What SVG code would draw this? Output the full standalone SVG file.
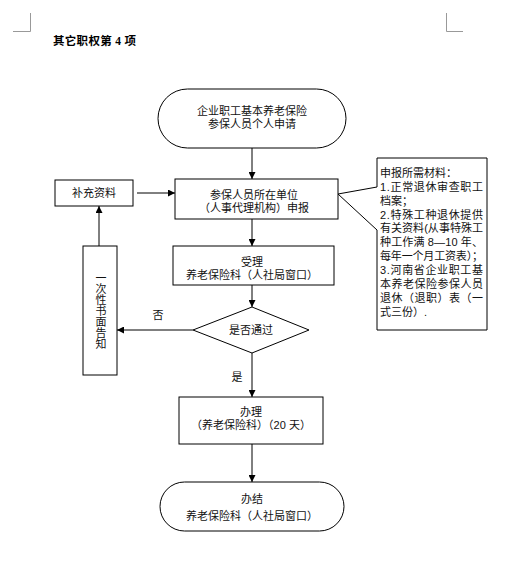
<svg xmlns="http://www.w3.org/2000/svg" width="523" height="570" viewBox="0 0 523 570">
  <defs>
    <marker id="arr" viewBox="0 0 10 10" refX="10" refY="5" markerWidth="7" markerHeight="7" markerUnits="userSpaceOnUse" orient="auto">
      <path d="M0,0 L10,5 L0,10 Z" fill="#000"/>
    </marker>
    <style>
      .shape { fill: #fff; stroke: #000; stroke-width: 1; }
      .t { font-family: "Liberation Sans", "Noto Sans CJK SC", sans-serif; font-size: 11px; fill: #111; text-anchor: middle; }
      .n { font-family: "Liberation Sans", "Noto Sans CJK SC", sans-serif; font-size: 11px; fill: #111; }
      .c { fill: none; stroke: #000; stroke-width: 1; marker-end: url(#arr); }
      .corner { fill: none; stroke: #999; stroke-width: 1; }
    </style>
  </defs>
  <rect width="523" height="570" fill="#fff"/>

  <!-- page corner marks -->
  <path class="corner" d="M30.5,13 V31.5 H13"/>
  <path class="corner" d="M446.5,13 V31.5 H463"/>

  <!-- title -->
  <text x="53" y="45" font-family="Liberation Serif, Noto Sans CJK SC, serif" font-size="11.5" font-weight="bold" fill="#000" letter-spacing="0.3">其它职权第 4 项</text>

  <g id="connectors">
    <line class="c" x1="252" y1="148" x2="252" y2="179"/>
    <line class="c" x1="137" y1="193" x2="175" y2="193"/>
    <line class="c" x1="252" y1="219" x2="252" y2="246"/>
    <line class="c" x1="252" y1="285" x2="252" y2="307"/>
    <line class="c" x1="193" y1="330" x2="117" y2="330"/>
    <line class="c" x1="99" y1="246" x2="99" y2="206"/>
    <line class="c" x1="252" y1="353" x2="252" y2="397"/>
    <line class="c" x1="252" y1="444" x2="252" y2="482"/>
  </g>

  <g id="start">
    <rect class="shape" x="158" y="89" width="188" height="59" rx="29.5" ry="29.5"/>
    <text class="t"><tspan x="252" y="115">企业职工基本养老保险</tspan><tspan x="252" y="128">参保人员个人申请</tspan></text>
  </g>

  <g id="apply">
    <rect class="shape" x="175" y="179" width="163" height="40"/>
    <text class="t"><tspan x="254" y="199">参保人员所在单位</tspan><tspan x="254" y="212">（人事代理机构）申报</tspan></text>
  </g>

  <g id="supplement">
    <rect class="shape" x="55" y="180" width="78" height="26"/>
    <text class="t" x="94" y="197">补充资料</text>
  </g>

  <g id="notice">
    <rect class="shape" x="83" y="246" width="34" height="129"/>
    <text class="n" x="100" y="272" style="writing-mode: vertical-rl;">一次性书面告知</text>
  </g>

  <g id="materials">
    <polygon class="shape" points="377,158 487,158 487,330 377,330 377,230 338,194 377,187"/>
    <text class="n">
      <tspan x="380" y="177">申报所需材料：</tspan>
      <tspan x="380" y="191" textLength="103" lengthAdjust="spacing">1.正常退休审查职工</tspan>
      <tspan x="380" y="205">档案；</tspan>
      <tspan x="380" y="219" textLength="103" lengthAdjust="spacing">2.特殊工种退休提供</tspan>
      <tspan x="380" y="232" textLength="103" lengthAdjust="spacing">有关资料(从事特殊工</tspan>
      <tspan x="380" y="246" textLength="103" lengthAdjust="spacing">种工作满 8—10 年、</tspan>
      <tspan x="380" y="260" textLength="103" lengthAdjust="spacing">每年一个月工资表）；</tspan>
      <tspan x="380" y="274" textLength="103" lengthAdjust="spacing">3.河南省企业职工基</tspan>
      <tspan x="380" y="288" textLength="103" lengthAdjust="spacing">本养老保险参保人员</tspan>
      <tspan x="380" y="302" textLength="103" lengthAdjust="spacing">退休（退职）表（一</tspan>
      <tspan x="380" y="316">式三份）.</tspan>
    </text>
  </g>

  <g id="accept">
    <rect class="shape" x="173" y="246" width="161" height="39"/>
    <text class="t"><tspan x="252" y="266">受理</tspan><tspan x="252" y="279">养老保险科（人社局窗口）</tspan></text>
  </g>

  <g id="decision">
    <polygon class="shape" points="252,307 309,330 252,353 193,330"/>
    <text class="t" x="251" y="334">是否通过</text>
  </g>

  <g id="labels">
    <text class="t" x="158" y="319">否</text>
    <text class="t" x="237" y="381">是</text>
  </g>

  <g id="process">
    <rect class="shape" x="179" y="397" width="144" height="47"/>
    <text class="t"><tspan x="251" y="416">办理</tspan><tspan x="251" y="429">（养老保险科）（20 天）</tspan></text>
  </g>

  <g id="end">
    <rect class="shape" x="160" y="482" width="184" height="49" rx="24.5" ry="24.5"/>
    <text class="t"><tspan x="252" y="503">办结</tspan><tspan x="252" y="520">养老保险科（人社局窗口）</tspan></text>
  </g>
</svg>
